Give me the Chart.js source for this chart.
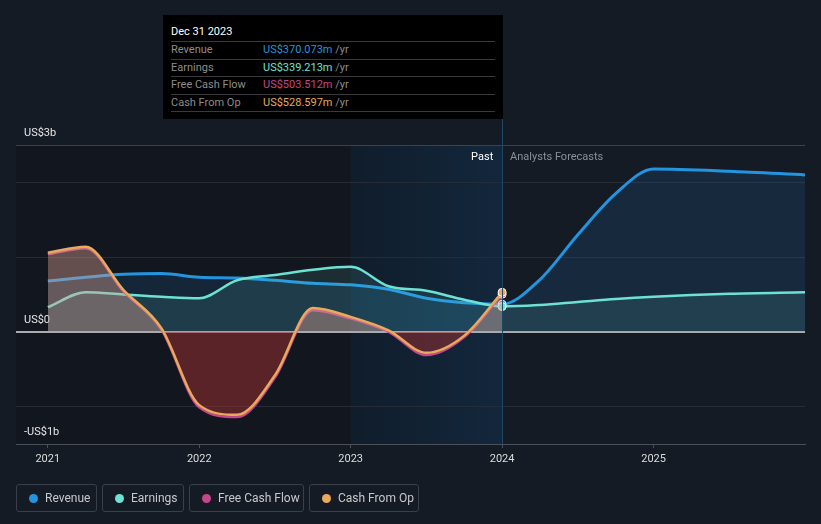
<!DOCTYPE html>
<html>
<head>
<meta charset="utf-8">
<script src="https://cdn.jsdelivr.net/npm/chart.js@4.4.1/dist/chart.umd.min.js"></script>
<style>
  html, body { margin:0; padding:0; background:#151b25; }
  body { width:821px; height:524px; overflow:hidden; font-family: Roboto, "Noto Sans", sans-serif; }
  #wrap { position:relative; width:821px; height:524px; }
  #c { position:absolute; left:0; top:0; }
  #tip { position:absolute; left:163px; top:15px; width:340px; height:104px; background:#000; box-sizing:border-box; padding:0 8px; }
  #tip .title { color:#fff; font-size:11px; height:26px; line-height:33px; border-bottom:1px solid #3a3a3a; }
  #tip .row { height:16.5px; line-height:15.5px; font-size:11px; border-bottom:1px solid #3a3a3a; position:relative; color:#8c8c8c; }
  #tip .row .v { position:absolute; left:92px; top:0; }
  #tip .row .u { color:#8c8c8c; }
  .lbl { position:absolute; font-size:11px; white-space:nowrap; line-height:13px; }
  #legend { position:absolute; left:16px; top:484px; height:29px; }
  .item { position:absolute; top:0; border:1px solid #3a404a; border-radius:3px; box-sizing:border-box; height:28px; color:#c8c8c8; font-size:12px; line-height:26px; }
  .item .dot { position:absolute; left:12px; top:9px; width:9px; height:9px; border-radius:50%; }
  .item .t { position:absolute; left:28px; top:0; }
</style>
</head>
<body>
<div id="wrap">
  <canvas id="c" width="821" height="524"></canvas>
  <div id="tip"></div>
  <div id="pastLbl" class="lbl" style="color:#ffffff;">Past</div>
  <div id="foreLbl" class="lbl" style="color:#8a8f97;">Analysts Forecasts</div>
  <div id="legend"></div>
</div>
<script>
// ---------- DATA (US$ billions) ----------
const pastYears      = [2021, 2021.25, 2021.5, 2021.75, 2022, 2022.25, 2022.5, 2022.75, 2023, 2023.25, 2023.5, 2023.75, 2024];
const forecastYears  = [2024.25, 2024.5, 2024.75, 2025, 2025.5, 2026];
const revenuePast    = [0.68, 0.73, 0.77, 0.78, 0.73, 0.72, 0.69, 0.65, 0.63, 0.57, 0.45, 0.39, 0.370073];
const revenueForecast= [0.70, 1.30, 1.85, 2.18, 2.15, 2.10];
const earningsPast   = [0.33, 0.53, 0.50, 0.47, 0.45, 0.69, 0.76, 0.83, 0.87, 0.61, 0.55, 0.43, 0.339213];
const earningsForecast=[0.36, 0.40, 0.44, 0.47, 0.51, 0.53];
const fcfPast        = [1.04, 1.12, 0.54, 0.03, -1.01, -1.14, -0.61, 0.29, 0.18, 0.00, -0.31, -0.07, 0.503512];
const cfoPast        = [1.06, 1.14, 0.56, 0.05, -0.98, -1.11, -0.58, 0.32, 0.20, 0.02, -0.28, -0.05, 0.528597];
const xTickValues    = [2021, 2022, 2023, 2024, 2025];
const xTickLabels    = ['2021', '2022', '2023', '2024', '2025'];
const yLabelValues   = [2.5, 0, -1.5];
const yLabelTexts    = ['US$3b', 'US$0', '-US$1b'];
const tooltipDate    = 'Dec 31 2023';
const seriesNames    = ['Revenue', 'Earnings', 'Free Cash Flow', 'Cash From Op'];
const tooltipValues  = ['US$370.073m', 'US$339.213m', 'US$503.512m', 'US$528.597m'];
const pastEnd = 2024, bandStart = 2023;

// ---------- STYLE ----------
const colors = ['#2394df', '#6de2d2', '#c5468a', '#e9aa5b'];

function pts(xs, ys) { return xs.map((x, i) => ({ x: x, y: ys[i] })); }
const markerRadius = ctx => (ctx.raw && ctx.raw.x === pastEnd) ? 4 : 0;

const bgPlugin = {
  id: 'bg',
  beforeDraw(chart) {
    const { ctx, chartArea: a, scales: { x } } = chart;
    if (!a) return;
    const xb = x.getPixelForValue(bandStart), xe = x.getPixelForValue(pastEnd);
    ctx.save();
    ctx.fillStyle = '#12161e';
    ctx.fillRect(a.left, a.top, xb - a.left, a.bottom - a.top);
    const g = ctx.createLinearGradient(xb, 0, xe, 0);
    g.addColorStop(0, '#101d2b');
    g.addColorStop(1, '#13273c');
    ctx.fillStyle = g;
    ctx.fillRect(xb, a.top, xe - xb, a.bottom - a.top);
    ctx.restore();
  },
  afterDatasetsDraw(chart) {
    const { ctx, chartArea: a, scales: { x } } = chart;
    const xe = Math.round(x.getPixelForValue(pastEnd)) + 0.5;
    ctx.save();
    ctx.strokeStyle = '#1f4766';
    ctx.lineWidth = 1;
    ctx.beginPath();
    ctx.moveTo(xe, 119);
    ctx.lineTo(xe, a.bottom);
    ctx.stroke();
    ctx.restore();
  },
  afterRender(chart) {
    const { chartArea: a, scales: { x } } = chart;
    const xe = x.getPixelForValue(pastEnd);
    const p = document.getElementById('pastLbl');
    p.style.left = (xe - 9 - p.offsetWidth) + 'px';
    p.style.top = (a.top + 5) + 'px';
    const f = document.getElementById('foreLbl');
    f.style.left = (xe + 8) + 'px';
    f.style.top = (a.top + 5) + 'px';
  }
};

const chart = new Chart(document.getElementById('c'), {
  type: 'line',
  data: {
    datasets: [
      {
        label: seriesNames[3], data: pts(pastYears, cfoPast), order: 1,
        borderColor: colors[3], borderWidth: 2.5, backgroundColor: colors[3],
        fill: { target: 'origin', above: 'rgba(214,160,146,0.42)', below: 'rgba(160,48,50,0.5)' },
        pointRadius: markerRadius, pointBorderColor: '#ffffff', pointBorderWidth: 1, pointBackgroundColor: colors[3],
        cubicInterpolationMode: 'monotone'
      },
      {
        label: seriesNames[2], data: pts(pastYears, fcfPast), order: 2,
        borderColor: colors[2], borderWidth: 2.5, backgroundColor: colors[2],
        fill: false,
        pointRadius: markerRadius, pointBorderColor: '#ffffff', pointBorderWidth: 1, pointBackgroundColor: colors[2],
        cubicInterpolationMode: 'monotone'
      },
      {
        label: seriesNames[1], data: pts(pastYears.concat(forecastYears), earningsPast.concat(earningsForecast)), order: 3,
        borderColor: colors[1], borderWidth: 2.5, backgroundColor: colors[1],
        fill: { target: 'origin', above: 'rgba(109,226,210,0.12)', below: 'rgba(109,226,210,0.12)' },
        pointRadius: markerRadius, pointBorderColor: '#ffffff', pointBorderWidth: 1, pointBackgroundColor: colors[1],
        cubicInterpolationMode: 'monotone'
      },
      {
        label: seriesNames[0], data: pts(pastYears.concat(forecastYears), revenuePast.concat(revenueForecast)), order: 4,
        borderColor: colors[0], borderWidth: 3, backgroundColor: colors[0],
        fill: { target: 'origin', above: 'rgba(35,148,223,0.13)', below: 'rgba(35,148,223,0.13)' },
        pointRadius: markerRadius, pointBorderColor: '#ffffff', pointBorderWidth: 1, pointBackgroundColor: colors[0],
        cubicInterpolationMode: 'monotone'
      }
    ]
  },
  options: {
    responsive: false,
    animation: false,
    events: [],
    layout: { padding: { left: 16, right: 16, top: 145, bottom: 50 } },
    plugins: { legend: { display: false }, tooltip: { enabled: false } },
    scales: {
      x: {
        type: 'linear', min: 2020.79, max: 2026,
        afterBuildTicks: s => { s.ticks = xTickValues.map(v => ({ value: v })); },
        afterFit: s => { s.height = 30; },
        ticks: {
          color: '#dcdcdc', font: { family: 'Roboto', size: 11 }, padding: 5,
          autoSkip: false, maxRotation: 0,
          callback: v => xTickLabels[xTickValues.indexOf(v)]
        },
        grid: { drawOnChartArea: false, drawTicks: true, tickLength: 4, color: '#4a505a' },
        border: { display: true, color: '#4a505a', width: 1 }
      },
      y: {
        type: 'linear', min: -1.5, max: 2.5,
        afterBuildTicks: s => { s.ticks = [-1.5, -1, 0, 1, 2, 2.5].map(v => ({ value: v })); },
        afterFit: s => { s.width = 0; },
        ticks: {
          mirror: true, padding: 8, labelOffset: -12, color: '#e6e6e6', autoSkip: false,
          font: { family: 'Roboto', size: 11 },
          callback: v => { const i = yLabelValues.indexOf(v); return i >= 0 ? yLabelTexts[i] : ''; }
        },
        grid: {
          drawTicks: false,
          color: c => c.tick.value === 0 ? '#a9abae' : (c.tick.value === 2.5 ? '#3c424c' : (c.tick.value === -1.5 ? 'rgba(0,0,0,0)' : '#262c36')),
          lineWidth: c => c.tick.value === 0 ? 2 : 1
        },
        border: { display: false }
      }
    }
  },
  plugins: [bgPlugin]
});

// ---------- tooltip box (HTML text) ----------
const tip = document.getElementById('tip');
let html = '<div class="title">' + tooltipDate + '</div>';
seriesNames.forEach((n, i) => {
  html += '<div class="row">' + n + '<span class="v"><span style="color:' + colors[i] + '">' + tooltipValues[i] + '</span> <span class="u">/yr</span></span></div>';
});
tip.innerHTML = html;

// ---------- legend (HTML) ----------
const legend = document.getElementById('legend');
const legendLefts = [0, 86, 173, 293];
const legendWidths = [81, 82, 115, 110];
seriesNames.forEach((n, i) => {
  const d = document.createElement('div');
  d.className = 'item';
  d.style.left = legendLefts[i] + 'px';
  d.style.width = legendWidths[i] + 'px';
  d.innerHTML = '<span class="dot" style="background:' + colors[i] + '"></span><span class="t">' + n + '</span>';
  legend.appendChild(d);
});
chart.update();
</script>
</body>
</html>
